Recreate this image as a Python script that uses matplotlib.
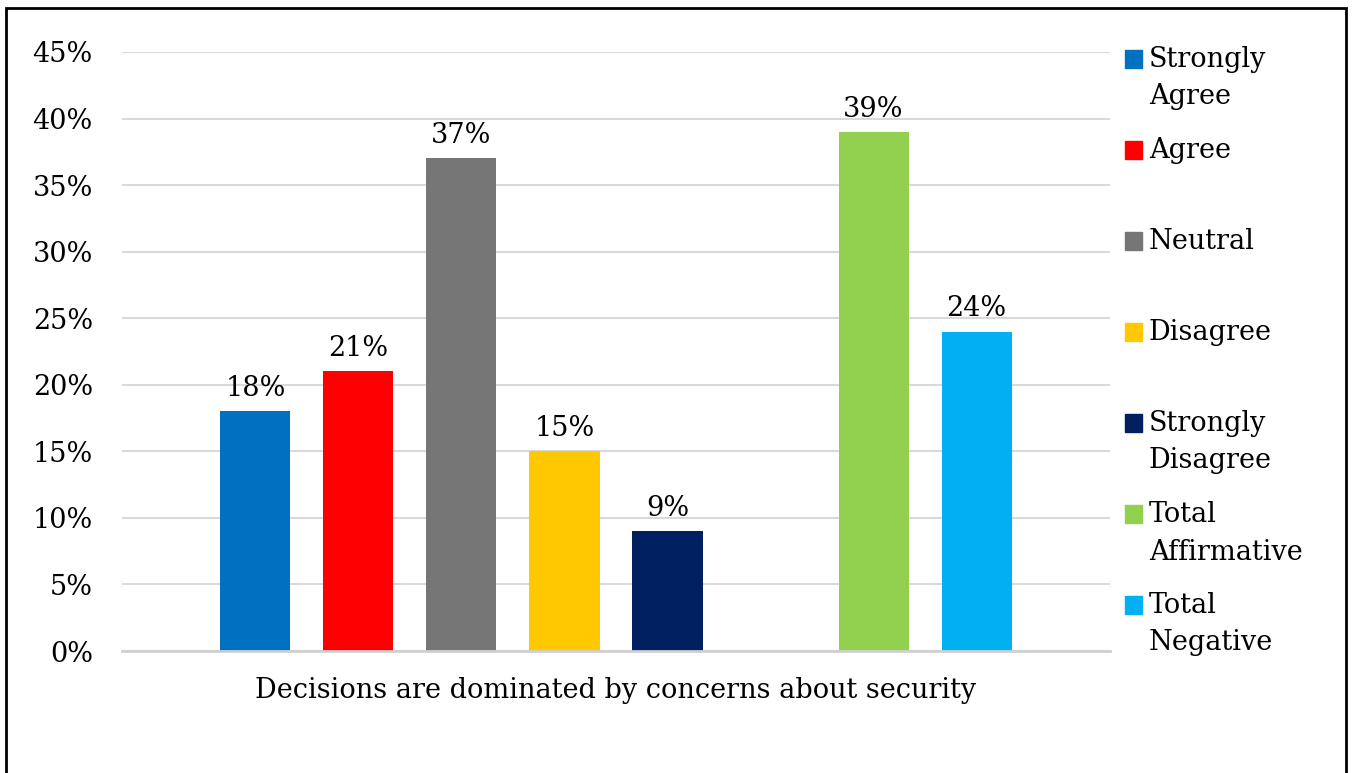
import matplotlib
matplotlib.use('Agg')
from matplotlib import pyplot as plt
from matplotlib.patches import Rectangle

labels = ['Strongly\nAgree', 'Agree', 'Neutral', 'Disagree', 'Strongly\nDisagree',
          'Total\nAffirmative', 'Total\nNegative']
values = [18, 21, 37, 15, 9, 39, 24]
colors = ['#0070C0', '#FF0000', '#767676', '#FFC800', '#002060', '#92D050', '#00B0F0']
positions = [0, 1, 2, 3, 4, 6, 7]  # slot 5 left empty, as in the original
category = 'Decisions are dominated by concerns about security'
yticks = [0, 5, 10, 15, 20, 25, 30, 35, 40, 45]

plt.rcParams['font.family'] = ['DejaVu Serif']
fs = 19.5

W, H = 1352, 773
fig = plt.figure(figsize=(W / 100, H / 100), dpi=100)
ax = fig.add_axes([122 / W, 1 - 651 / H, (1110 - 122) / W, (651 - 52) / H])

ax.bar(positions, values, width=0.68, color=colors, zorder=2)
for p, v in zip(positions, values):
    ax.text(p, v + 0.7, f'{v}%', ha='center', va='bottom', fontsize=fs)

ax.set_xlim(-1.295, 8.295)
ax.set_ylim(0, 45)
ax.set_yticks(yticks)
ax.set_yticklabels([f'{t}%' for t in yticks], fontsize=fs)
ax.set_xticks([])
ax.grid(axis='y', color='#D9D9D9', linewidth=1.5, zorder=0)
ax.tick_params(axis='y', length=0, pad=21)
for s in ['top', 'right', 'left']:
    ax.spines[s].set_visible(False)
ax.spines['bottom'].set_color('#D0D0D0')
ax.spines['bottom'].set_linewidth(2)

fig.text(616 / W, 1 - 690 / H, category, ha='center', va='center', fontsize=fs)

# legend drawn by hand: one 91px slot per entry, text top-aligned
for i, (lab, col) in enumerate(zip(labels, colors)):
    ytop = 46 + 91 * i
    fig.add_artist(Rectangle((1125 / W, 1 - (ytop + 22) / H), 17 / W, 18 / H,
                             transform=fig.transFigure, color=col))
    fig.text(1149 / W, 1 - ytop / H, lab, ha='left', va='top', fontsize=fs,
             linespacing=1.5)

# outer frame
fig.add_artist(Rectangle((6 / W, -0.1), (1346 - 6) / W, 1.1 - 8 / H,
                         transform=fig.transFigure, fill=False,
                         edgecolor='black', linewidth=2, clip_on=False))

fig.savefig('out.png', dpi=100)
